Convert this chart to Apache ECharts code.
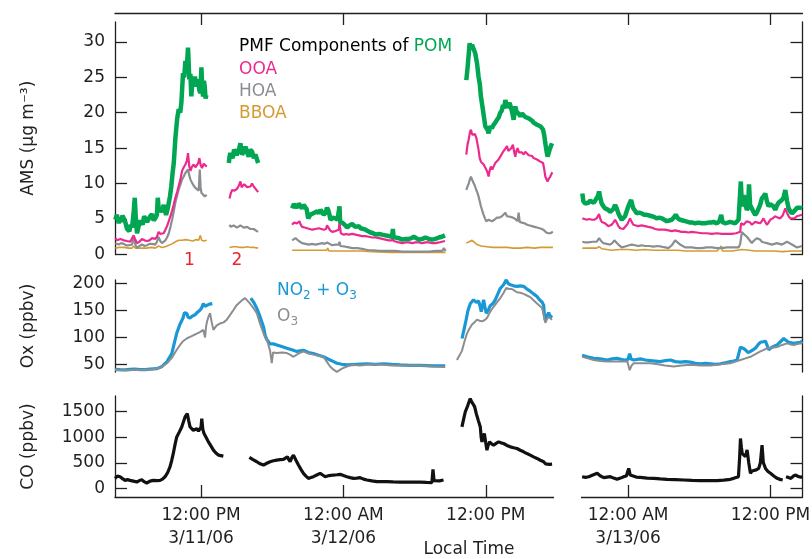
<!DOCTYPE html>
<html>
<head>
<meta charset="utf-8">
<script src="https://cdn.jsdelivr.net/npm/echarts@6/dist/echarts.min.js"></script>
<style>
	html, body { margin: 0; padding: 0; background: #fff; }
	#chart { width: 812px; height: 559px; }
</style>
</head>
<body>
<div id="chart"></div>
<script>
// time is hours since 3/11/06 00:00 local time, null breaks the trace
const tickHours = [12, 24, 36, 48, 60];
const tickLabels = ["12:00 PM\n3/11/06", "12:00 AM\n3/12/06", "12:00 PM", "12:00 AM\n3/13/06", "12:00 PM"];
const amsTicks = [0, 5, 10, 15, 20, 25, 30];
const oxTicks = [50, 100, 150, 200];
const coTicks = [0, 500, 1000, 1500];

// AMS, ug m-3
const pom = [
	[4.77,4.9],[4.9,5.6],[5.06,4.4],[5.18,5.2],[5.28,4.6],[5.38,5.5],[5.48,5.6],[5.61,4.6],[5.76,3.6],[5.95,3.3],[6.08,4.2],[6.18,3.8],[6.3,5.6],[6.41,8.0],[6.5,5.1],[6.6,3.0],[6.75,4.1],[6.88,4.8],[7.08,4.2],[7.2,5.4],[7.3,5.3],[7.45,4.6],[7.59,4.5],[7.72,5.4],[7.87,5.7],[8.0,4.8],[8.14,5.1],[8.28,5.6],[8.35,8.0],[8.45,6.0],[8.57,6.4],[8.7,6.0],[8.85,7.0],[8.95,6.2],[9.05,5.6],[9.18,6.4],[9.28,7.3],[9.38,8.2],[9.49,9.6],[9.6,11.5],[9.7,12.9],[9.83,16.3],[9.98,19.1],[10.12,20.5],[10.24,20.0],[10.34,21.4],[10.48,25.6],[10.58,25.0],[10.68,27.3],[10.8,26.5],[10.9,29.2],[11.01,24.7],[11.1,25.5],[11.18,22.3],[11.28,24.8],[11.38,24.2],[11.48,25.1],[11.58,23.7],[11.66,24.3],[11.75,24.7],[11.85,23.2],[11.94,22.8],[12.03,26.4],[12.1,23.5],[12.17,22.3],[12.24,24.5],[12.31,23.7],[12.38,22.0],[12.45,22.5],
	[13.5,null],
	[14.34,12.9],[14.4,13.8],[14.47,14.3],[14.57,13.9],[14.67,13.6],[14.78,14.8],[14.89,14.5],[15.0,14.0],[15.12,13.9],[15.22,15.0],[15.32,15.7],[15.4,14.6],[15.46,14.1],[15.6,14.5],[15.74,15.2],[15.88,14.4],[16.02,13.8],[16.15,14.8],[16.3,14.5],[16.45,13.6],[16.58,14.1],[16.7,13.9],[16.81,12.9],
	[18.5,null],
	[19.68,6.5],[19.82,7.1],[19.96,6.9],[20.1,6.6],[20.24,7.2],[20.38,6.8],[20.52,6.5],[20.64,7.0],[20.75,6.9],[20.9,6.4],[21.03,5.1],[21.2,5.6],[21.36,5.6],[21.55,5.9],[21.79,6.1],[21.93,5.8],[22.07,6.3],[22.2,6.0],[22.35,5.6],[22.5,5.9],[22.62,6.6],[22.71,6.3],[22.8,5.8],[22.91,4.9],[23.1,5.2],[23.33,5.1],[23.5,4.9],[23.62,5.0],[23.67,6.8],[23.72,4.6],[23.9,4.5],[24.1,4.2],[24.32,3.8],[24.5,4.1],[24.74,4.3],[25.0,3.9],[25.3,4.0],[25.45,3.7],[25.58,3.5],[25.86,3.5],[26.05,3.3],[26.28,3.1],[26.5,3.0],[26.7,2.8],[27.0,2.9],[27.27,2.8],[27.55,2.7],[27.83,2.6],[28.1,2.5],[28.17,3.6],[28.22,2.5],[28.39,2.4],[28.7,2.3],[28.96,2.1],[29.25,2.2],[29.52,2.2],[29.75,2.3],[29.94,2.5],[30.15,2.3],[30.37,2.1],[30.65,2.2],[30.92,2.4],[31.2,2.2],[31.49,2.1],[31.75,2.2],[32.05,2.4],[32.3,2.5],[32.56,2.7],
	[33.5,null],
	[34.36,24.6],[34.47,26.4],[34.64,29.8],[34.75,28.9],[34.84,29.6],[34.97,29.8],[35.11,28.4],[35.26,27.0],[35.39,25.1],[35.5,24.0],[35.59,22.3],[35.76,20.4],[35.96,18.1],[36.15,17.6],[36.24,17.1],[36.38,18.1],[36.52,17.8],[36.66,18.3],[36.8,18.6],[36.94,19.0],[37.08,19.3],[37.22,20.0],[37.35,20.3],[37.45,21.1],[37.55,20.6],[37.65,21.8],[37.79,20.7],[37.9,20.9],[38.01,21.4],[38.11,20.8],[38.21,20.2],[38.35,19.0],[38.49,20.9],[38.58,20.2],[38.68,20.0],[38.8,19.8],[38.91,19.5],[39.05,19.9],[39.19,19.8],[39.33,19.4],[39.48,19.5],[39.62,19.2],[39.75,19.0],[39.9,18.9],[40.03,18.6],[40.18,18.5],[40.32,18.3],[40.46,18.4],[40.6,18.1],[40.72,17.9],[40.83,17.6],[40.93,16.8],[41.02,15.7],[41.12,14.6],[41.21,13.8],[41.3,14.3],[41.38,14.8],[41.48,14.9],[41.58,15.7],
	[42.8,null],
	[44.14,8.6],[44.23,7.5],[44.37,7.2],[44.51,7.4],[44.65,7.3],[44.79,7.6],[44.93,7.5],[45.1,7.3],[45.22,7.6],[45.35,7.7],[45.47,8.3],[45.55,8.9],[45.65,8.0],[45.77,7.2],[45.92,6.8],[46.06,6.5],[46.2,6.6],[46.33,6.3],[46.47,6.0],[46.61,5.8],[46.75,6.4],[46.9,7.0],[47.04,6.5],[47.18,5.8],[47.32,5.3],[47.46,4.9],[47.6,5.1],[47.74,5.4],[47.88,6.1],[48.02,6.8],[48.15,7.3],[48.25,7.7],[48.35,7.0],[48.44,6.5],[48.58,6.2],[48.72,5.8],[48.93,5.9],[49.14,5.8],[49.35,5.6],[49.57,5.6],[49.78,5.5],[49.99,5.4],[50.2,5.3],[50.41,5.1],[50.62,5.2],[50.83,5.1],[51.05,4.9],[51.26,4.7],[51.47,4.8],[51.68,4.9],[51.85,5.2],[52.01,5.6],[52.2,5.1],[52.38,4.9],[52.6,4.8],[52.81,4.7],[53.02,4.6],[53.23,4.5],[53.44,4.5],[53.65,4.4],[53.93,4.5],[54.21,4.4],[54.49,4.4],[54.77,4.5],[55.0,4.5],[55.2,4.6],[55.34,4.4],[55.48,4.4],[55.7,4.7],[55.85,5.6],[55.95,4.6],[56.18,4.4],[56.4,4.5],[56.6,4.6],[56.82,4.5],[57.03,4.4],[57.17,4.6],[57.31,4.9],[57.45,5.0],[57.5,10.3],[57.58,7.5],[57.67,6.8],[57.76,8.4],[57.86,7.2],[58.01,6.3],[58.12,6.6],[58.19,9.9],[58.28,7.0],[58.43,6.5],[58.57,6.0],[58.71,5.6],[58.85,5.9],[58.99,6.1],[59.13,7.0],[59.27,7.9],[59.42,8.2],[59.56,8.6],[59.7,7.5],[59.84,6.8],[59.98,7.1],[60.12,7.3],[60.26,6.8],[60.4,6.3],[60.54,6.9],[60.68,7.3],[60.82,7.5],[60.96,7.7],[61.1,8.0],[61.25,9.1],[61.39,7.6],[61.53,6.5],[61.67,6.1],[61.81,5.8],[61.95,6.0],[62.1,6.3],[62.24,6.6],[62.38,6.8],[62.52,6.6],[62.66,6.5]
];

const ooa = [
	[4.77,2.3],[4.92,2.0],[5.06,1.9],[5.2,2.2],[5.34,2.1],[5.48,2.0],[5.61,1.8],[5.75,1.9],[5.89,2.1],[6.03,1.8],[6.18,1.9],[6.32,2.7],[6.45,2.1],[6.6,1.6],[6.8,1.8],[7.02,2.2],[7.23,2.0],[7.44,1.9],[7.65,2.0],[7.87,2.3],[8.0,2.1],[8.14,2.2],[8.28,2.5],[8.42,3.2],[8.56,2.9],[8.7,2.8],[8.85,3.0],[8.99,3.5],[9.13,4.0],[9.28,4.7],[9.42,5.4],[9.56,6.2],[9.7,7.1],[9.83,8.0],[9.98,8.8],[10.12,9.7],[10.26,10.6],[10.4,11.8],[10.54,12.3],[10.68,12.7],[10.8,13.2],[10.9,14.3],[11.0,12.5],[11.1,11.8],[11.24,12.4],[11.38,12.7],[11.52,12.3],[11.66,12.2],[11.76,12.9],[11.86,13.6],[11.97,12.6],[12.08,12.2],[12.22,12.8],[12.36,12.7],[12.48,12.4],
	[13.5,null],
	[14.4,7.9],[14.5,8.6],[14.62,9.1],[14.83,9.0],[15.04,9.3],[15.18,9.7],[15.32,10.3],[15.42,9.5],[15.52,9.3],[15.63,9.9],[15.74,9.8],[15.88,9.5],[16.02,9.3],[16.16,9.6],[16.3,10.0],[16.44,9.6],[16.58,9.3],[16.7,9.4],[16.81,8.8],
	[18.5,null],
	[19.68,4.2],[19.82,4.5],[19.96,4.3],[20.1,4.4],[20.29,4.7],[20.4,4.2],[20.52,3.9],[20.73,3.8],[20.94,3.7],[21.15,3.6],[21.36,3.5],[21.64,3.6],[21.93,3.7],[22.14,3.6],[22.35,3.5],[22.53,3.6],[22.62,4.1],[22.71,3.9],[22.88,3.4],[23.05,3.2],[23.33,3.3],[23.61,3.5],[23.67,4.6],[23.78,3.0],[24.04,2.8],[24.25,2.9],[24.46,2.8],[24.74,2.9],[25.02,2.8],[25.3,2.7],[25.58,2.6],[25.86,2.6],[26.15,2.5],[26.42,2.4],[26.7,2.4],[26.99,2.3],[27.27,2.2],[27.55,2.1],[27.83,2.0],[28.11,2.0],[28.17,2.3],[28.24,1.9],[28.39,1.9],[28.68,1.7],[28.96,1.6],[29.24,1.7],[29.52,1.7],[29.8,1.6],[30.08,1.7],[30.36,1.7],[30.64,1.6],[30.92,1.7],[31.21,1.7],[31.49,1.6],[31.77,1.6],[32.05,1.7],[32.3,1.8],[32.56,1.9],
	[33.5,null],
	[34.36,14.1],[34.46,15.5],[34.56,16.2],[34.66,17.2],[34.75,17.6],[34.86,16.9],[34.97,16.7],[35.08,17.0],[35.2,16.5],[35.3,15.6],[35.39,14.8],[35.49,13.6],[35.59,13.1],[35.7,13.3],[35.82,12.7],[35.93,12.6],[36.04,12.0],[36.14,11.6],[36.24,11.0],[36.34,11.9],[36.43,12.4],[36.55,12.0],[36.66,12.4],[36.8,12.9],[36.94,13.1],[37.08,13.4],[37.22,13.8],[37.36,14.0],[37.5,14.6],[37.64,14.9],[37.79,15.3],[37.9,14.6],[38.01,14.8],[38.15,15.0],[38.29,15.5],[38.39,14.5],[38.49,13.8],[38.58,14.6],[38.68,15.0],[38.8,14.4],[38.91,14.6],[39.05,14.4],[39.19,14.1],[39.33,14.5],[39.48,14.3],[39.62,14.0],[39.75,13.8],[39.9,13.9],[40.03,13.6],[40.18,13.5],[40.32,13.4],[40.46,13.3],[40.6,13.1],[40.72,13.0],[40.83,12.9],[40.93,12.0],[41.02,11.0],[41.12,10.6],[41.21,10.3],[41.32,10.7],[41.44,11.0],[41.52,11.3],[41.61,11.6],
	[42.8,null],
	[44.14,5.1],[44.33,5.0],[44.51,4.9],[44.72,5.0],[44.93,4.9],[45.14,4.9],[45.35,5.1],[45.45,5.3],[45.55,5.7],[45.66,5.0],[45.77,4.6],[45.92,4.5],[46.06,4.4],[46.2,4.3],[46.33,4.0],[46.47,4.1],[46.61,4.2],[46.75,4.5],[46.9,4.9],[47.04,4.5],[47.18,4.0],[47.32,3.7],[47.46,3.5],[47.6,3.6],[47.74,3.8],[47.95,4.3],[48.16,5.1],[48.3,4.6],[48.44,4.2],[48.65,4.1],[48.86,4.0],[49.14,4.1],[49.42,4.0],[49.7,3.9],[49.99,3.8],[50.27,3.6],[50.55,3.5],[50.83,3.5],[51.11,3.5],[51.4,3.4],[51.68,3.3],[51.96,3.4],[52.24,3.3],[52.52,3.2],[52.81,3.2],[53.09,3.1],[53.37,3.2],[53.79,3.1],[54.21,3.0],[54.63,3.0],[55.06,2.9],[55.48,3.0],[55.9,2.9],[56.32,2.9],[56.74,2.9],[57.1,3.0],[57.45,3.2],[57.52,4.4],[57.59,4.6],[57.73,4.2],[57.87,4.4],[58.01,4.7],[58.15,4.9],[58.29,4.5],[58.43,4.2],[58.57,4.4],[58.71,4.6],[58.92,4.5],[59.13,4.4],[59.27,4.7],[59.41,5.1],[59.55,4.6],[59.7,4.2],[59.84,4.5],[59.98,4.9],[60.19,5.1],[60.4,5.4],[60.61,5.2],[60.82,5.1],[61.03,5.5],[61.25,6.5],[61.39,5.9],[61.53,5.4],[61.67,5.1],[61.81,4.9],[62.02,5.1],[62.24,5.4],[62.45,5.5],[62.66,5.6]
];

const hoa = [
	[4.77,1.6],[4.92,1.5],[5.06,1.4],[5.27,1.6],[5.48,1.5],[5.68,1.3],[5.89,1.3],[6.03,1.5],[6.18,1.4],[6.32,2.3],[6.46,1.4],[6.6,0.9],[6.8,1.2],[7.02,1.4],[7.23,1.2],[7.44,1.3],[7.65,1.5],[7.87,1.5],[8.0,1.3],[8.14,1.4],[8.28,1.8],[8.42,2.5],[8.56,1.9],[8.7,1.6],[8.85,1.8],[8.99,2.0],[9.13,2.4],[9.28,3.0],[9.42,3.9],[9.56,4.9],[9.7,6.1],[9.83,7.3],[9.98,8.3],[10.12,9.2],[10.26,9.9],[10.4,10.6],[10.54,11.0],[10.68,11.5],[10.8,11.7],[10.9,12.0],[11.0,11.2],[11.1,10.6],[11.24,10.1],[11.38,9.7],[11.52,9.4],[11.66,9.2],[11.8,9.0],[11.89,12.0],[11.96,9.5],[12.03,8.7],[12.17,8.5],[12.31,8.2],[12.48,8.4],
	[13.5,null],
	[14.4,4.2],[14.5,3.9],[14.62,3.8],[14.75,4.1],[14.89,3.9],[15.03,3.8],[15.18,3.7],[15.32,4.1],[15.46,4.0],[15.6,3.8],[15.74,3.7],[15.88,3.9],[16.02,3.8],[16.16,3.6],[16.3,3.5],[16.44,3.6],[16.58,3.5],[16.7,3.3],[16.81,3.2],
	[18.5,null],
	[19.68,2.0],[19.82,2.2],[19.96,2.3],[20.24,1.9],[20.52,1.6],[20.8,1.5],[21.08,1.4],[21.36,1.5],[21.64,1.4],[21.93,1.5],[22.21,1.6],[22.42,1.5],[22.63,1.7],[22.84,1.5],[23.05,1.3],[23.33,1.4],[23.61,1.4],[23.67,1.8],[23.75,1.2],[23.9,1.2],[24.18,1.1],[24.46,1.0],[24.74,0.9],[25.16,0.9],[25.58,0.8],[25.86,0.7],[26.15,0.6],[26.57,0.6],[26.99,0.5],[27.41,0.5],[27.83,0.5],[28.4,0.5],[28.96,0.4],[29.52,0.4],[30.08,0.4],[30.64,0.4],[31.21,0.4],[31.77,0.5],[32.33,0.5],[32.47,0.9],[32.61,0.5],
	[33.5,null],
	[34.36,9.1],[34.46,9.6],[34.56,10.0],[34.66,10.6],[34.75,11.0],[34.86,10.5],[34.97,10.3],[35.08,9.7],[35.2,9.1],[35.3,8.7],[35.39,8.2],[35.49,7.5],[35.59,6.8],[35.7,6.2],[35.82,5.6],[35.93,5.1],[36.04,4.7],[36.14,4.9],[36.24,4.9],[36.38,4.8],[36.52,4.7],[36.73,4.9],[36.94,5.2],[37.15,5.2],[37.36,5.4],[37.5,5.5],[37.65,5.9],[37.79,5.4],[37.93,5.2],[38.11,5.3],[38.29,5.2],[38.49,5.0],[38.68,4.7],[38.77,5.9],[38.86,4.6],[39.05,4.5],[39.26,4.4],[39.48,4.2],[39.69,4.1],[39.9,4.0],[40.11,3.9],[40.32,3.8],[40.53,3.7],[40.74,3.6],[40.92,3.4],[41.1,3.1],[41.27,3.0],[41.44,3.0],[41.66,3.2],
	[42.8,null],
	[44.14,1.8],[44.4,1.7],[44.65,1.7],[45.0,1.8],[45.35,1.8],[45.45,2.0],[45.55,2.3],[45.73,1.9],[45.91,1.6],[46.19,1.5],[46.47,1.4],[46.66,1.6],[46.84,2.0],[47.01,1.7],[47.18,1.4],[47.32,1.2],[47.46,1.0],[47.67,1.1],[47.88,1.2],[48.09,1.3],[48.3,1.4],[48.58,1.3],[48.86,1.2],[49.14,1.3],[49.42,1.2],[49.78,1.2],[50.13,1.1],[50.48,1.2],[50.83,1.1],[51.12,1.0],[51.4,0.9],[51.68,1.3],[51.96,2.0],[52.17,1.7],[52.38,1.4],[52.6,1.2],[52.81,1.0],[53.09,1.0],[53.37,1.0],[53.79,0.9],[54.21,0.9],[54.63,1.0],[55.06,1.0],[55.48,0.9],[55.9,0.9],[56.32,1.0],[56.74,1.0],[57.03,1.0],[57.31,1.0],[57.45,1.5],[57.59,3.2],[57.73,2.9],[57.87,2.7],[58.01,2.5],[58.15,2.3],[58.29,1.9],[58.43,1.6],[58.57,1.9],[58.71,2.1],[58.85,2.3],[58.99,2.5],[59.13,2.1],[59.27,1.8],[59.48,1.7],[59.7,1.6],[59.91,1.5],[60.12,1.4],[60.33,1.5],[60.54,1.6],[60.75,1.5],[60.96,1.4],[61.18,1.6],[61.39,1.8],[61.6,1.6],[61.81,1.4],[62.02,1.2],[62.24,1.0],[62.45,1.1],[62.66,1.2]
];

const bboa = [
	[4.77,0.9],[5.1,1.0],[5.5,1.0],[5.9,0.9],[6.18,0.9],[6.32,1.2],[6.46,0.9],[6.6,0.8],[7.0,0.9],[7.4,0.9],[7.8,1.0],[8.14,0.9],[8.42,1.2],[8.7,1.0],[8.99,1.1],[9.28,1.3],[9.56,1.5],[9.84,1.8],[10.12,2.0],[10.4,2.0],[10.68,2.1],[11.0,2.0],[11.3,1.9],[11.6,2.1],[11.8,2.0],[11.94,2.7],[12.05,2.0],[12.25,1.9],[12.48,2.0],
	[13.5,null],
	[14.4,1.0],[14.7,1.1],[15.0,1.1],[15.3,1.0],[15.6,1.0],[15.9,1.1],[16.2,1.0],[16.5,1.0],[16.81,0.9],
	[18.5,null],
	[19.68,0.6],[20.5,0.6],[21.5,0.6],[22.6,0.6],[22.68,0.9],[22.78,0.5],[24.0,0.5],[25.5,0.5],[26.5,0.4],[28.0,0.3],[30.0,0.3],[32.61,0.3],
	[33.5,null],
	[34.36,1.6],[34.6,1.8],[34.84,2.0],[35.05,1.7],[35.26,1.4],[35.6,1.2],[36.1,1.1],[36.6,1.0],[37.2,1.0],[37.8,1.0],[38.3,0.9],[38.9,0.9],[39.5,1.0],[40.1,0.9],[40.6,1.0],[41.1,1.0],[41.66,1.0],
	[42.8,null],
	[44.14,0.9],[44.7,0.9],[45.35,0.9],[45.55,1.1],[45.8,0.8],[46.61,0.6],[47.3,0.7],[48.0,0.7],[48.7,0.6],[49.4,0.7],[50.1,0.6],[50.8,0.6],[51.5,0.6],[52.2,0.6],[52.8,0.5],[53.4,0.5],[54.5,0.5],[55.5,0.5],[55.85,1.2],[55.95,0.5],[56.8,0.5],[57.6,0.7],[58.2,0.6],[58.7,0.5],[59.5,0.5],[60.3,0.5],[61.0,0.4],[61.8,0.5],[62.66,0.5]
];

// Ox, ppbv
const noxO3 = [
	[4.75,40.7],[5.17,40],[5.59,39.5],[6.01,40.5],[6.43,41],[6.85,40],[7.28,40],[7.7,41],[8.29,42],[8.71,46],[9.13,55],[9.53,70],[9.75,90],[9.95,108],[10.23,125],[10.48,136],[10.6,146],[10.79,145],[10.9,138],[11.07,136],[11.28,140],[11.49,142],[11.7,147],[11.92,151],[12.05,155],[12.19,163],[12.33,158],[12.48,157],[12.7,162],[12.95,163],
	[14.5,null],
	[16.19,173],[16.45,165],[16.7,154],[16.95,140],[17.26,120],[17.4,104],[17.54,96],[17.68,92],[17.82,88],[18.1,88],[18.39,86],[18.8,83],[19.23,80],[19.65,77],[20.07,74],[20.35,75],[20.63,76],[21.05,72],[21.47,70],[21.9,67],[22.32,64],[22.6,61],[22.88,58],[23.17,55],[23.45,52],[23.87,50],[24.29,49],[25.13,50],[25.98,51],[26.68,50],[27.38,51],[28.08,50],[28.79,49],[29.63,48],[30.47,48],[31.5,47],[32.58,47],
	[33.3,null],
	[34.0,98],[34.28,126],[34.5,150],[34.7,163],[34.97,170],[35.2,165],[35.39,168],[35.5,160],[35.62,148],[35.82,170],[35.92,158],[36.04,145],[36.2,150],[36.38,159],[36.6,163],[36.8,170],[37.0,180],[37.22,191],[37.5,198],[37.73,207],[37.9,200],[38.07,198],[38.35,196],[38.63,195],[38.9,196],[39.19,195],[39.47,190],[39.75,186],[40.03,181],[40.32,176],[40.53,170],[40.74,166],[40.88,160],[40.95,140],[41.02,132],[41.16,140],[41.3,146],[41.45,138],[41.59,141],
	[42.8,null],
	[44.12,67],[44.54,64],[45.1,61],[45.66,60],[46.23,58],[46.65,60],[47.07,61],[47.63,58],[48.0,59],[48.13,70],[48.25,60],[48.47,58],[49.03,60],[49.45,58],[49.88,57],[50.3,56],[50.72,55],[51.14,57],[51.56,58],[51.98,55],[52.41,54],[52.83,55],[53.25,54],[53.67,52],[54.09,51],[54.52,52],[54.94,51],[55.36,50],[55.78,51],[56.2,53],[56.62,55],[56.9,56],[57.19,58],[57.35,60],[57.47,82],[57.68,80],[57.89,77],[58.1,72],[58.31,74],[58.52,77],[58.73,80],[58.94,86],[59.15,91],[59.37,92],[59.58,93],[59.72,85],[59.86,77],[60.0,80],[60.14,82],[60.35,84],[60.56,86],[60.84,92],[61.12,98],[61.33,94],[61.55,91],[61.76,90],[61.97,89],[62.25,90],[62.53,91],[62.7,93]
];

const o3 = [
	[4.75,40],[5.17,39],[5.59,39.5],[6.01,39],[6.43,40],[6.85,39.5],[7.28,40],[7.7,40.5],[8.29,42],[8.71,46],[9.13,52],[9.53,62],[9.95,77],[10.23,86],[10.48,93],[10.79,98],[11.07,101],[11.35,104],[11.64,107],[11.9,110],[12.19,114],[12.34,100],[12.42,120],[12.51,130],[12.65,140],[12.76,145],[12.9,128],[13.04,114],[13.3,122],[13.6,126],[13.9,128],[14.17,133],[14.45,142],[14.73,151],[15.0,160],[15.29,166],[15.5,170],[15.71,173],[15.92,168],[16.13,163],[16.4,155],[16.7,145],[16.98,125],[17.26,108],[17.4,100],[17.54,96],[17.68,86],[17.82,75],[17.96,52],[18.07,72],[18.39,71],[18.8,72],[19.23,71],[19.5,68],[19.79,64],[20.2,70],[20.63,74],[21.05,70],[21.47,68],[21.9,66],[22.32,64],[22.6,55],[22.88,46],[23.17,40],[23.45,36],[23.87,42],[24.29,46],[24.57,48],[24.85,49],[25.4,48],[25.98,49],[26.68,50],[27.38,49],[28.08,48],[28.79,48],[29.63,48],[30.47,48],[31.5,46],[32.58,45],
	[33.1,null],
	[33.57,58],[33.99,75],[34.2,92],[34.41,107],[34.62,116],[34.84,124],[35.05,128],[35.26,133],[35.47,131],[35.68,130],[35.89,132],[36.1,136],[36.38,148],[36.66,157],[36.94,165],[37.22,173],[37.48,182],[37.73,192],[37.97,190],[38.21,190],[38.42,187],[38.63,184],[38.91,183],[39.19,181],[39.47,178],[39.75,175],[40.03,169],[40.32,163],[40.53,159],[40.74,155],[40.88,142],[41.02,127],[41.16,134],[41.3,138],[41.45,135],[41.59,133],
	[42.8,null],
	[44.12,64],[44.6,61],[45.1,58],[45.66,56],[46.23,55],[46.8,55],[47.35,55],[47.94,55],[48.13,39],[48.3,48],[48.47,52],[49.17,52],[49.88,52],[50.5,50],[51.1,48],[51.84,46],[52.5,48],[53.25,49],[54.1,48],[54.94,48],[55.8,50],[56.62,52],[57.05,55],[57.47,58],[57.89,61],[58.31,64],[58.73,69],[59.15,74],[59.44,77],[59.72,80],[60.14,81],[60.56,82],[60.98,86],[61.41,89],[61.69,87],[61.97,86],[62.35,88],[62.7,89]
];

// CO, ppbv
const co = [
	[4.75,195],[4.95,240],[5.17,226],[5.38,190],[5.59,156],[5.8,170],[6.01,156],[6.3,140],[6.58,123],[6.8,150],[7.0,170],[7.2,130],[7.42,104],[7.7,140],[7.98,156],[8.26,150],[8.54,156],[8.75,180],[8.96,226],[9.17,300],[9.38,421],[9.52,540],[9.66,682],[9.8,850],[9.95,1006],[10.16,1100],[10.37,1201],[10.51,1300],[10.65,1396],[10.75,1420],[10.84,1462],[10.95,1330],[11.07,1201],[11.2,1180],[11.35,1136],[11.5,1150],[11.64,1168],[11.78,1120],[11.92,1103],[12.0,1200],[12.06,1364],[12.15,1150],[12.25,1071],[12.44,990],[12.62,909],[12.83,830],[13.04,747],[13.25,690],[13.46,650],[13.67,640],[13.88,630],
	[15.0,null],
	[16.07,604],[16.38,560],[16.7,520],[16.98,480],[17.26,455],[17.54,490],[17.82,520],[18.1,540],[18.39,552],[18.66,560],[18.94,565],[19.1,590],[19.28,617],[19.4,560],[19.51,520],[19.65,600],[19.79,650],[20.0,550],[20.21,455],[20.42,370],[20.63,293],[20.84,240],[21.05,195],[21.26,210],[21.47,228],[21.75,260],[22.04,293],[22.25,260],[22.46,228],[22.8,250],[23.16,260],[23.45,265],[23.73,273],[24.0,250],[24.29,228],[24.57,210],[24.85,195],[25.13,200],[25.41,208],[25.7,180],[25.98,163],[26.4,145],[26.82,130],[27.25,130],[27.67,130],[28.2,125],[28.79,123],[29.6,122],[30.47,123],[31.0,115],[31.46,110],[31.55,370],[31.64,150],[31.74,130],[32.1,145],[32.44,163],
	[33.2,null],
	[33.99,1201],[34.13,1350],[34.27,1494],[34.48,1620],[34.69,1755],[34.8,1700],[34.92,1723],[35.06,1600],[35.2,1462],[35.37,1330],[35.54,1201],[35.61,1000],[35.68,909],[35.78,1000],[35.88,1071],[35.99,900],[36.1,747],[36.21,850],[36.32,909],[36.49,870],[36.66,844],[36.87,880],[37.08,909],[37.29,890],[37.5,877],[37.78,840],[38.07,812],[38.35,795],[38.63,780],[38.91,745],[39.19,715],[39.47,680],[39.75,650],[40.03,615],[40.32,585],[40.6,550],[40.88,520],[41.03,480],[41.17,455],[41.38,470],[41.59,475],
	[42.8,null],
	[44.12,226],[44.4,215],[44.68,226],[45.03,260],[45.39,293],[45.67,240],[45.95,208],[46.22,220],[46.5,228],[46.78,200],[47.07,176],[47.35,200],[47.63,228],[47.85,240],[48.05,390],[48.18,260],[48.33,228],[48.68,220],[49.03,215],[49.6,200],[50.16,195],[50.72,185],[51.28,176],[51.98,170],[52.69,163],[53.39,155],[54.09,150],[54.8,150],[55.5,150],[56.06,160],[56.62,176],[56.9,195],[57.3,228],[57.4,600],[57.47,975],[57.55,800],[57.62,680],[57.75,700],[57.89,620],[58.03,750],[58.17,500],[58.31,293],[58.45,340],[58.59,330],[58.8,360],[59.01,390],[59.15,500],[59.29,844],[59.4,500],[59.58,390],[59.79,330],[60.0,293],[60.28,240],[60.56,195],[60.8,175],[61.03,163],
	[61.15,null],
	[61.31,228],[61.52,210],[61.72,195],[61.93,240],[62.14,260],[62.35,230],[62.56,215],[62.7,228]
];

const FONT = "DejaVu Sans";
const INK = "#231f20";
const xMin = 4.745;
const xMax = 62.7;

const axisLine = { show: true, onZero: false, lineStyle: { color: INK, width: 1.3 } };
const labelStyle = { color: INK, fontFamily: FONT, fontSize: 17 };

function leftAxis(gridIndex, min, max, ticks, name) {
	return {
		type: "value",
		gridIndex: gridIndex,
		position: "left",
		min: min,
		max: max,
		name: name,
		nameLocation: "middle",
		nameGap: 78,
		nameTextStyle: { color: INK, fontFamily: FONT, fontSize: 17 },
		axisLine: axisLine,
		axisTick: { show: true, inside: true, length: 12, customValues: ticks, lineStyle: { color: INK, width: 1.3 } },
		axisLabel: Object.assign({ margin: 10, customValues: ticks, formatter: (v) => String(v) }, labelStyle),
		splitLine: { show: false },
	};
}

function rightAxis(gridIndex, min, max, ticks) {
	return {
		type: "value",
		gridIndex: gridIndex,
		position: "right",
		min: min,
		max: max,
		axisLine: axisLine,
		axisTick: { show: true, inside: true, length: 12, customValues: ticks, lineStyle: { color: INK, width: 1.3 } },
		axisLabel: { show: false },
		splitLine: { show: false },
	};
}

function line(data, xi, yi, color, width) {
	return {
		type: "line",
		xAxisIndex: xi,
		yAxisIndex: yi,
		data: data,
		showSymbol: false,
		symbol: "none",
		connectNulls: false,
		lineStyle: { color: color, width: width },
		itemStyle: { color: color },
		z: 3,
	};
}

// text with real subscripts: big run + small run dropped to the line bottom
function subText(color) {
	return {
		b: { fill: color, fontFamily: FONT, fontSize: 17, lineHeight: 22 },
		s: { fill: color, fontFamily: FONT, fontSize: 12, lineHeight: 12, verticalAlign: "bottom" },
	};
}

const option = {
	animation: false,
	backgroundColor: "#fff",
	grid: [
		{ left: 115, width: 687.5, top: 22, height: 232.5, outerBoundsMode: "none" },
		{ left: 115, width: 687.5, top: 280, height: 92, outerBoundsMode: "none" },
		{ left: 115, width: 687.5, top: 396, height: 101, outerBoundsMode: "none" },
	],
	xAxis: [
		{
			type: "value",
			gridIndex: 0,
			min: xMin,
			max: xMax,
			position: "top",
			offset: 9,
			axisLine: axisLine,
			axisTick: { show: true, inside: true, length: 12, customValues: tickHours, lineStyle: { color: INK, width: 1.3 } },
			axisLabel: { show: false },
			splitLine: { show: false },
		},
		{ type: "value", gridIndex: 1, min: xMin, max: xMax, show: false },
		{
			type: "value",
			gridIndex: 2,
			min: xMin,
			max: xMax,
			position: "bottom",
			axisLine: axisLine,
			axisTick: { show: true, inside: true, length: 12, customValues: tickHours, lineStyle: { color: INK, width: 1.3 } },
			axisLabel: Object.assign({
				margin: 7,
				lineHeight: 23,
				customValues: tickHours,
				formatter: (v) => tickLabels[tickHours.indexOf(v)],
			}, labelStyle),
			splitLine: { show: false },
		},
	],
	yAxis: [
		leftAxis(0, 0, 32.8, amsTicks, "AMS (μg m⁻³)"),
		rightAxis(0, 0, 32.8, amsTicks),
		leftAxis(1, 35.7, 206.8, oxTicks, "Ox (ppbv)"),
		rightAxis(1, 35.7, 206.8, oxTicks),
		leftAxis(2, -170, 1807, coTicks, "CO (ppbv)"),
		rightAxis(2, -170, 1807, coTicks),
	],
	series: [
		line(bboa, 0, 0, "#d49b34", 1.6),
		line(hoa, 0, 0, "#8b8e91", 2.2),
		line(ooa, 0, 0, "#ec2a8e", 2.2),
		line(pom, 0, 0, "#00a651", 4.5),
		line(noxO3, 1, 2, "#1a98d5", 3.2),
		line(o3, 1, 2, "#8b8e91", 2),
		line(co, 2, 4, "#111111", 3.2),
	],
	graphic: [
		{
			type: "text", x: 239, y: 47, z: 10,
			style: {
				text: "{k|PMF Components of }{g|POM}",
				verticalAlign: "middle",
				font: "17px 'DejaVu Sans'",
				rich: {
					k: { fill: "#000", fontFamily: FONT, fontSize: 17 },
					g: { fill: "#00a651", fontFamily: FONT, fontSize: 17 },
				},
			},
		},
		{ type: "text", x: 239, y: 70, z: 10, style: { text: "OOA", fill: "#ec2a8e", font: "17px 'DejaVu Sans'", verticalAlign: "middle" } },
		{ type: "text", x: 239, y: 92, z: 10, style: { text: "HOA", fill: "#8b8e91", font: "17px 'DejaVu Sans'", verticalAlign: "middle" } },
		{ type: "text", x: 239, y: 114, z: 10, style: { text: "BBOA", fill: "#d49b34", font: "17px 'DejaVu Sans'", verticalAlign: "middle" } },
		{ type: "text", x: 189.5, y: 261, z: 10, style: { text: "1", fill: "#e8262b", font: "17px 'DejaVu Sans'", align: "center", verticalAlign: "middle" } },
		{ type: "text", x: 237, y: 261, z: 10, style: { text: "2", fill: "#e8262b", font: "17px 'DejaVu Sans'", align: "center", verticalAlign: "middle" } },
		{
			type: "text", x: 277, y: 291, z: 10,
			style: { text: "{b|NO}{s|2}{b| + O}{s|3}", verticalAlign: "middle", rich: subText("#1a98d5") },
		},
		{
			type: "text", x: 277, y: 317, z: 10,
			style: { text: "{b|O}{s|3}", verticalAlign: "middle", rich: subText("#8b8e91") },
		},
		{ type: "text", x: 469, y: 550, z: 10, style: { text: "Local Time", fill: INK, font: "17px 'DejaVu Sans'", align: "center", verticalAlign: "middle" } },
		// the bottom axis is broken between the two halves of the record
		{ type: "rect", z: 100, shape: { x: 554, y: 494, width: 27, height: 6 }, style: { fill: "#fff" } },
	],
};

const chart = echarts.init(document.getElementById("chart"), null, { renderer: "canvas" });
chart.setOption(option);
</script>
</body>
</html>
